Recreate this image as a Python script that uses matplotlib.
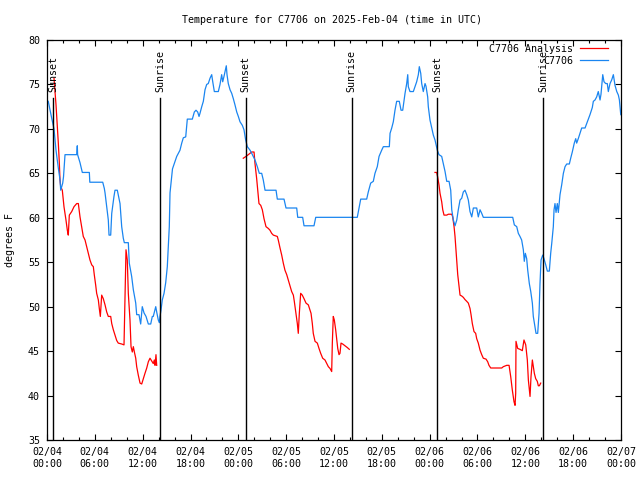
import matplotlib
matplotlib.use("Agg")
import matplotlib.pyplot as plt
from matplotlib.ticker import MultipleLocator, FixedLocator
import numpy as np

# ---- data (hours since 2025-02-04 00:00 UTC) ----
obs_hours = [0.16, 0.59, 0.88, 1.13, 1.42, 1.63, 1.72, 1.97, 2.07, 2.26, 3.73, 3.80, 3.84, 4.14, 4.43,
             5.31, 5.37, 6.99, 7.19, 7.28, 7.49, 7.69, 7.78, 7.99, 8.12, 8.40, 8.53, 8.82, 9.16, 9.37,
             9.57, 9.70, 10.20, 10.32, 10.62, 10.83, 11.13, 11.25, 11.54, 11.75, 11.88, 11.95, 12.17,
             12.42, 12.71, 13.01, 13.21, 13.33, 13.64, 13.76, 13.96, 14.09, 14.17, 14.30, 14.46, 14.68,
             14.89, 15.09, 15.22, 15.34, 15.43, 15.74, 16.27, 16.68, 16.90, 17.10, 17.40, 17.52, 17.60,
             18.23, 18.48, 18.69, 18.90, 19.07, 19.19, 19.41, 19.61, 19.82, 20.03, 20.23, 20.45, 20.66,
             20.79, 20.99, 21.49, 21.70, 21.91, 22.04, 22.20, 22.37, 22.49, 22.58, 22.74, 22.96, 23.17,
             23.37, 23.58, 23.80, 24.00, 24.21, 24.50, 24.71, 24.92, 25.13, 25.47, 25.68, 26.09, 26.38,
             26.63, 26.93, 27.13, 27.35, 28.73, 28.89, 29.73, 29.98, 31.32, 31.45, 32.07, 32.24, 33.49,
             33.71, 38.92, 39.17, 39.35, 40.10, 40.30, 40.60, 40.93, 41.14, 41.43, 41.65, 41.98, 42.19,
             42.94, 43.03, 43.24, 43.44, 43.65, 43.86, 44.19, 44.41, 44.62, 44.91, 45.12, 45.25, 45.32,
             45.53, 45.95, 46.16, 46.37, 46.58, 46.70, 46.88, 47.00, 47.20, 47.42, 47.54, 47.75, 47.83,
             48.04, 48.26, 48.46, 48.67, 48.96, 49.17, 49.51, 49.71, 49.93, 50.14, 50.43, 50.64, 50.77,
             50.97, 51.18, 51.40, 51.59, 51.81, 52.02, 52.22, 52.43, 52.65, 52.85, 53.06, 53.28, 53.48,
             53.90, 54.10, 54.32, 54.53, 54.73, 58.42, 58.62, 58.92, 59.12, 59.33, 59.54, 59.75, 59.87,
             60.00, 60.17, 60.30, 60.50, 60.68, 60.88, 61.00, 61.21, 61.34, 61.55, 61.72, 61.84, 61.97,
             62.18, 62.34, 62.56, 62.76, 63.01, 63.18, 63.31, 63.51, 63.60, 63.72, 63.85, 64.01, 64.14,
             64.35, 64.56, 64.77, 64.98, 65.19, 65.52, 65.69, 65.89, 66.14, 66.32, 66.44, 66.64, 66.86,
             67.07, 67.49, 67.70, 67.90, 68.11, 68.40, 68.53, 68.74, 68.95, 69.15, 69.37, 69.49, 69.71,
             69.87, 70.08, 70.28, 70.41, 70.62, 70.83, 71.04, 71.25, 71.47, 71.67, 71.80, 71.97]
obs_temps = [73.1, 71.2, 70.0, 67.6, 65.6, 64.3, 63.1, 63.9, 64.6, 67.1, 67.1, 68.1, 67.1, 66.2, 65.1,
             65.1, 64.0, 64.0, 63.3, 62.8, 61.25, 59.75, 58.05, 58.05, 60.5, 62.4, 63.1, 63.1, 61.6, 59.0,
             57.7, 57.2, 57.2, 54.9, 53.4, 51.9, 50.4, 49.1, 49.1, 48.05, 49.4, 50.0, 49.3,
             48.9, 48.05, 48.05, 48.9, 48.9, 50.0, 49.4, 48.5, 48.2, 48.9, 49.6, 50.75, 51.5,
             52.7, 54.5, 56.75, 59.0, 62.8, 65.5, 66.9, 67.6, 68.4, 69.0, 69.1, 70.25, 71.1,
             71.1, 71.9, 72.1, 71.9, 71.4, 71.75, 72.5, 73.1, 74.4, 75.0, 75.1, 75.7, 76.1,
             75.3, 74.2, 74.2, 75.0, 76.1, 75.3, 75.9, 76.6, 77.1, 76.1, 75.1, 74.4, 74.0,
             73.4, 72.7, 71.9, 71.4, 70.8, 70.4, 69.9, 68.75, 68.0, 67.6, 67.25, 66.5, 65.75,
             65.0, 65.0, 64.25, 63.1, 63.1, 62.1, 62.1, 61.1, 61.1, 60.05, 60.05, 59.1, 59.1,
             60.05, 60.05, 61.25, 62.1, 62.1, 62.9, 63.9, 64.1, 65.0, 65.75, 66.9, 67.6, 68.0,
             68.0, 69.5, 70.1, 70.8, 72.1, 73.1, 73.1, 72.1, 72.1, 74.0, 75.1, 76.1, 74.75,
             74.2, 74.2, 74.75, 75.3, 76.1, 77.0, 76.25, 75.1, 74.2, 75.1, 74.8, 73.6, 72.5,
             71.0, 70.1, 69.3, 68.75, 67.6, 67.1, 66.9, 66.1, 65.2, 64.1, 64.1, 63.1, 60.9,
             59.75, 59.1, 59.75, 60.9, 62.0, 62.2, 62.9, 63.1, 62.6, 62.0, 60.7, 60.1, 61.1,
             61.1, 60.1, 60.9, 60.5, 60.05, 60.05, 59.2, 59.0, 58.25, 57.9, 57.5, 56.4, 55.1,
             56.0, 55.4, 54.1, 52.6, 51.7, 50.4, 48.9, 47.75, 47.0, 47.0, 49.25, 52.6, 55.25,
             55.8, 55.4, 54.7, 54.0, 54.0, 56.0, 57.1, 59.0, 60.9, 61.6, 60.6, 61.6, 60.6,
             62.6, 63.7, 65.0, 65.75, 66.05, 66.05, 66.7, 67.4, 68.4, 68.9, 68.4, 68.9, 69.5,
             70.1, 70.1, 70.6, 71.1, 71.6, 72.4, 73.1, 73.25, 73.6, 74.2, 73.25, 73.9, 76.1,
             75.3, 75.1, 75.1, 74.2, 75.1, 75.5, 76.1, 74.9, 74.2, 73.8, 73.25, 71.6]

# analysis (night segments only; NaN separates segments)
ana_hours = [0.88, 1.13, 1.29, 1.42, 1.54, 1.63, 1.72, 1.92, 2.04, 2.13, 2.38, 2.55, 2.67, 2.80, 3.10,
             3.39, 3.73, 3.93, 4.14, 4.35, 4.55, 4.77, 4.98, 5.18, 5.39, 5.61, 5.81, 5.93, 6.11, 6.23,
             6.44, 6.56, 6.69, 6.77, 6.86, 7.06, 7.28, 7.49, 7.69, 7.99, 8.12, 8.32, 8.53, 8.74, 8.94,
             9.37, 9.66, 9.78, 9.91, 10.07, 10.20, 10.41, 10.54, 10.70, 10.83, 10.96, 11.13, 11.25,
             11.45, 11.67, 11.88, 12.08, 12.29, 12.51, 12.71, 12.92, 13.13, 13.33, 13.46, 13.55, 13.67,
             13.76, np.nan,
             24.62, 24.96, 25.25, 25.68, 25.97, 26.09, 26.30, 26.43, 26.59, 26.81, 27.01, 27.22, 27.47,
             27.76, 27.97, 28.18, 28.39, 28.89, 29.01, 29.23, 29.44, 29.64, 29.85, 30.07, 30.27, 30.48,
             30.69, 30.90, 31.02, 31.20, 31.40, 31.52, 31.65, 31.82, 32.02, 32.24, 32.49, 32.78, 33.12,
             33.28, 33.40, 33.62, 33.91, 34.12, 34.33, 34.58, 34.87, 35.09, 35.29, 35.50, 35.71, 35.79,
             35.91, 36.04, 36.21, 36.34, 36.47, 36.63, 36.75, 36.88, 37.09, 37.38, 37.67, 37.92, np.nan,
             48.67, 48.88, 49.00, 49.17, 49.30, 49.51, 49.64, 49.80, 50.14, 50.34, 50.77, 50.89, 51.06,
             51.18, 51.27, 51.40, 51.52, 51.69, 51.81, 52.02, 52.22, 52.43, 52.65, 52.85, 53.06, 53.19,
             53.35, 53.56, 53.77, 53.90, 54.10, 54.32, 54.53, 54.73, 55.07, 55.28, 55.44, 55.66, 57.04,
             57.24, 57.67, 57.96, 58.17, 58.37, 58.58, 58.71, 58.79, 58.83, 59.04, 59.33, 59.62, 59.83,
             60.05, 60.25, 60.38, 60.59, 60.71, 60.88, 61.00, 61.13, 61.30, 61.50, 61.63, 61.76, 61.93]
ana_temps = [75.7, 72.7, 70.4, 68.4, 66.3, 64.25, 63.5, 63.1, 62.0, 61.25, 59.75, 58.6, 58.05, 60.3, 60.7,
             61.25, 61.6, 61.6, 60.1, 59.0, 57.9, 57.5, 56.75, 56.0, 55.25, 54.7, 54.5, 53.6, 52.4, 51.5,
             50.75, 49.8, 48.9, 50.0, 51.3, 50.9, 50.2, 49.4, 48.9, 48.9, 48.1, 47.4, 46.8, 46.2, 45.9,
             45.8, 45.7, 50.75, 56.4, 55.25, 51.5, 48.5, 45.5, 44.9, 45.5, 44.9, 44.2, 43.25,
             42.3, 41.4, 41.3, 41.9, 42.5, 43.1, 43.8, 44.2, 43.9, 43.6, 44.0, 43.4, 44.6,
             43.4, np.nan,
             66.7, 66.9, 67.1, 67.4, 67.4, 66.1, 64.4, 63.1, 61.6, 61.4, 60.9, 59.9, 59.0,
             58.8, 58.6, 58.25, 58.05, 57.9, 57.5, 56.6, 55.8, 54.9, 54.1, 53.6, 53.0, 52.4,
             51.7, 51.3, 50.6, 49.4, 48.1, 47.0, 49.25, 51.5, 51.3, 50.9, 50.4, 50.2, 49.25,
             48.1, 47.0, 46.1, 45.9, 45.3, 44.75, 44.2, 44.0, 43.6, 43.25, 43.05, 42.7, 45.9,
             48.9, 48.5, 47.4, 46.4, 45.3, 44.6, 44.75, 45.9, 45.8, 45.6, 45.4, 45.2, np.nan,
             65.1, 65.1, 64.6, 63.7, 62.75, 61.8, 60.9, 60.3, 60.3, 60.4, 60.4, 60.1, 59.0,
             57.9, 56.75, 55.25, 53.6, 52.25, 51.3, 51.2, 51.05, 50.8, 50.6, 50.4, 49.8, 49.1,
             48.1, 47.2, 47.0, 46.4, 45.9, 45.1, 44.6, 44.2, 44.1, 43.8, 43.4, 43.1, 43.1,
             43.25, 43.4, 43.4, 42.1, 40.6, 39.3, 38.9, 40.25, 46.1, 45.3, 45.2, 45.05, 46.25,
             45.7, 44.0, 41.75, 39.9, 42.1, 44.0, 43.25, 42.5, 41.9, 41.6, 41.1, 41.1, 41.4]

event_hours = [0.79, 14.17, 24.9, 38.22, 48.96, 62.26]
event_names = ["Sunset", "Sunrise", "Sunset", "Sunrise", "Sunset", "Sunrise"]

xtick_hours = [0, 6, 12, 18, 24, 30, 36, 42, 48, 54, 60, 66, 72]
xtick_labels = ["02/04\n00:00", "02/04\n06:00", "02/04\n12:00", "02/04\n18:00",
                "02/05\n00:00", "02/05\n06:00", "02/05\n12:00", "02/05\n18:00",
                "02/06\n00:00", "02/06\n06:00", "02/06\n12:00", "02/06\n18:00",
                "02/07\n00:00"]
ytick_values = [35, 40, 45, 50, 55, 60, 65, 70, 75, 80]

title = "Temperature for C7706 on 2025-Feb-04 (time in UTC)"
ylabel = "degrees F"
series_names = ["C7706 Analysis", "C7706"]

# ---- plot ----
plt.rcParams['font.family'] = ['DejaVu Sans Mono']
FS = 7.2
fig = plt.figure(figsize=(6.4, 4.8), dpi=100)
ax = fig.add_axes([47/640, 40/480, 574/640, 400/480])

ax.plot(ana_hours, ana_temps, color="#ff0000", lw=0.9, label=series_names[0])
ax.plot(obs_hours, obs_temps, color="#1a85f0", lw=0.9, label=series_names[1])

for h, name in zip(event_hours, event_names):
    ax.axvline(h, ymin=0, ymax=0.855, color="black", lw=1.0)
    ax.text(h, 0.87, name, transform=ax.get_xaxis_transform(), rotation=90,
            ha="center", va="bottom", fontsize=FS, color="black")

ax.set_xlim(0, 72)
ax.set_ylim(35, 80)
ax.xaxis.set_major_locator(FixedLocator(xtick_hours))
ax.set_xticklabels(xtick_labels)
ax.xaxis.set_minor_locator(MultipleLocator(2))
ax.set_yticks(ytick_values)
ax.tick_params(which="both", direction="in", top=True, right=True, labelsize=FS)
ax.tick_params(which="major", length=4, width=0.8, pad=5)
ax.tick_params(which="minor", length=2, width=0.8)
for s in ax.spines.values():
    s.set_linewidth(0.9)

fig.text(332/640, 1 - 20/480, title, ha="center", va="center", fontsize=FS)
fig.text(10/640, 0.5, ylabel, rotation=90, ha="center", va="center", fontsize=FS)

leg = ax.legend(loc="upper right", bbox_to_anchor=(1 - 8/574, 1 + 1/400),
                frameon=False, markerfirst=False, fontsize=FS,
                handlelength=2.8, handletextpad=0.7, labelspacing=0.2,
                borderaxespad=0.3, borderpad=0.2)

fig.savefig("out.png", dpi=100)
